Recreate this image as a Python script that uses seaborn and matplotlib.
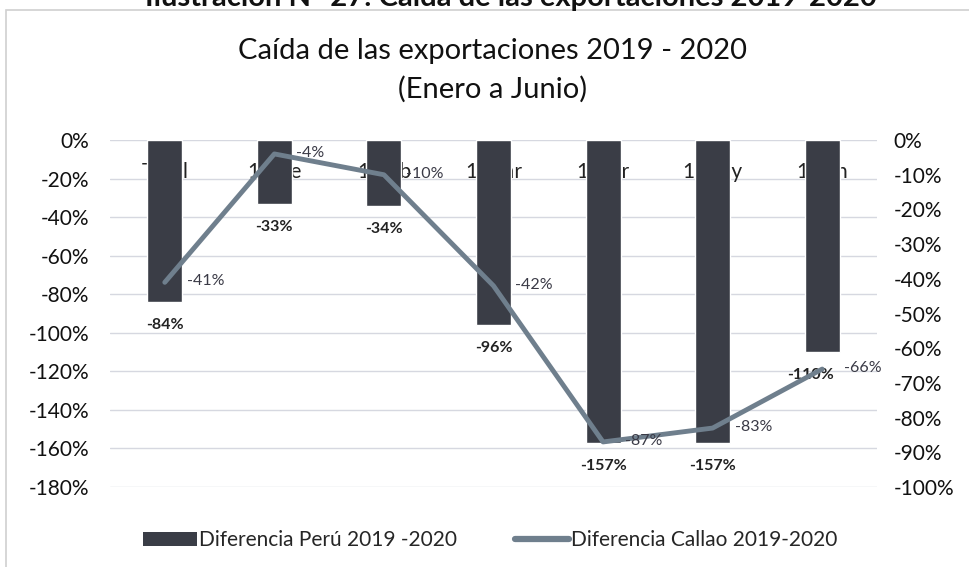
import matplotlib
matplotlib.use("Agg")
import matplotlib.pyplot as plt
import seaborn as sns
import numpy as np
import pandas as pd
from matplotlib.patches import Rectangle, Patch
from matplotlib.lines import Line2D

categories = ["Total", "1-Ene", "1-Feb", "1-Mar", "1-Abr", "1-May", "1-Jun"]
peru_diff = [-84, -33, -34, -96, -157, -157, -110]
callao_diff = [-41, -4, -10, -42, -87, -83, -66]
left_ticks = [0, -20, -40, -60, -80, -100, -120, -140, -160, -180]
right_ticks = [0, -10, -20, -30, -40, -50, -60, -70, -80, -90, -100]

sns.set_theme(style="white")
plt.rcParams["font.family"] = ["Lato", "DejaVu Sans"]

BAR_C = "#3a3d46"
LINE_C = "#6f7f8d"
GRID_C = "#d6d8e0"

df = pd.DataFrame({"cat": categories, "peru": peru_diff, "callao": callao_diff,
                   "pos": np.arange(len(categories))})

fig = plt.figure(figsize=(9.7, 5.67), dpi=100)
ax = fig.add_axes([0.1134, 0.141, 0.7907, 0.612])

sns.barplot(data=df, x="cat", y="peru", color=BAR_C, width=0.32, ax=ax,
            saturation=1, order=categories)
ax.set_ylim(-180, 0)
ax.set_xlim(-0.5, len(categories) - 0.5)
ax.set_yticks(left_ticks)
ax.set_yticklabels([f"{v}%" for v in left_ticks], fontsize=15, color="#111111")
ax.set_ylabel("")
ax.set_xlabel("")
for v in left_ticks:
    ax.axhline(v, color=GRID_C, lw=1.0, zorder=0)
for s in ax.spines.values():
    s.set_visible(False)
ax.tick_params(axis="y", length=0, pad=15)

# category labels at the top, inside the plot
ax.xaxis.tick_top()
ax.set_xticks(np.arange(len(categories)))
ax.set_xticklabels(categories, fontsize=15, color="#222222")
ax.tick_params(axis="x", length=0, pad=-30)

# bar labels
for i, v in enumerate(peru_diff):
    dx = -12 if categories[i] == "1-Jun" else 0
    ax.annotate(f"{v}%", (i, v), xytext=(dx, -23), textcoords="offset pixels",
                ha="center", va="center", fontsize=11.5, fontweight="bold",
                color="#222222")

ax2 = ax.twinx()
sns.lineplot(data=df, x="pos", y="callao", color=LINE_C, lw=3.5, ax=ax2,
             legend=False)
ax2.set_ylim(-100, 0)
ax2.set_yticks(right_ticks)
ax2.set_yticklabels([f"{v}%" for v in right_ticks], fontsize=15, color="#111111")
ax2.set_ylabel("")
ax2.set_xlabel("")
ax2.set_xlim(-0.5, len(categories) - 0.5)
for s in ax2.spines.values():
    s.set_visible(False)
ax2.tick_params(axis="y", length=0, pad=12)
ax2.grid(False)

for i, v in enumerate(callao_diff):
    ax2.annotate(f"{v}%", (i, v), xytext=(22, 1), textcoords="offset pixels",
                 ha="left", va="center", fontsize=11.5, color="#3a3a46")

# titles
fig.text(0.508, 0.91, "Caída de las exportaciones 2019 - 2020", ha="center",
         va="center", fontsize=21, color="#111111")
fig.text(0.508, 0.843, "(Enero a Junio)", ha="center", va="center",
         fontsize=21, color="#111111")
fig.text(0.527, 1.004, "Ilustración N° 27: Caída de las exportaciones 2019-2020",
         ha="center", va="center", fontsize=21, fontweight="bold", color="#111111")

# chart frame
fig.patches.append(Rectangle((0.006, -0.02), 1.2, 1.002, transform=fig.transFigure,
                             fill=False, ec="#d0d0d0", lw=1.2))

handles = [Patch(facecolor=BAR_C, edgecolor="none"),
           Line2D([0], [0], color=LINE_C, lw=4.5, solid_capstyle="round")]
fig.legend(handles, ["Diferencia Perú 2019 -2020", "Diferencia Callao 2019-2020"],
           loc="center left", bbox_to_anchor=(0.147, 0.0476), ncol=2, frameon=False,
           fontsize=15, handlelength=2.6, handleheight=0.67, handletextpad=0.1,
           columnspacing=2.8, borderpad=0, borderaxespad=0)

fig.savefig("out.png", dpi=100)
